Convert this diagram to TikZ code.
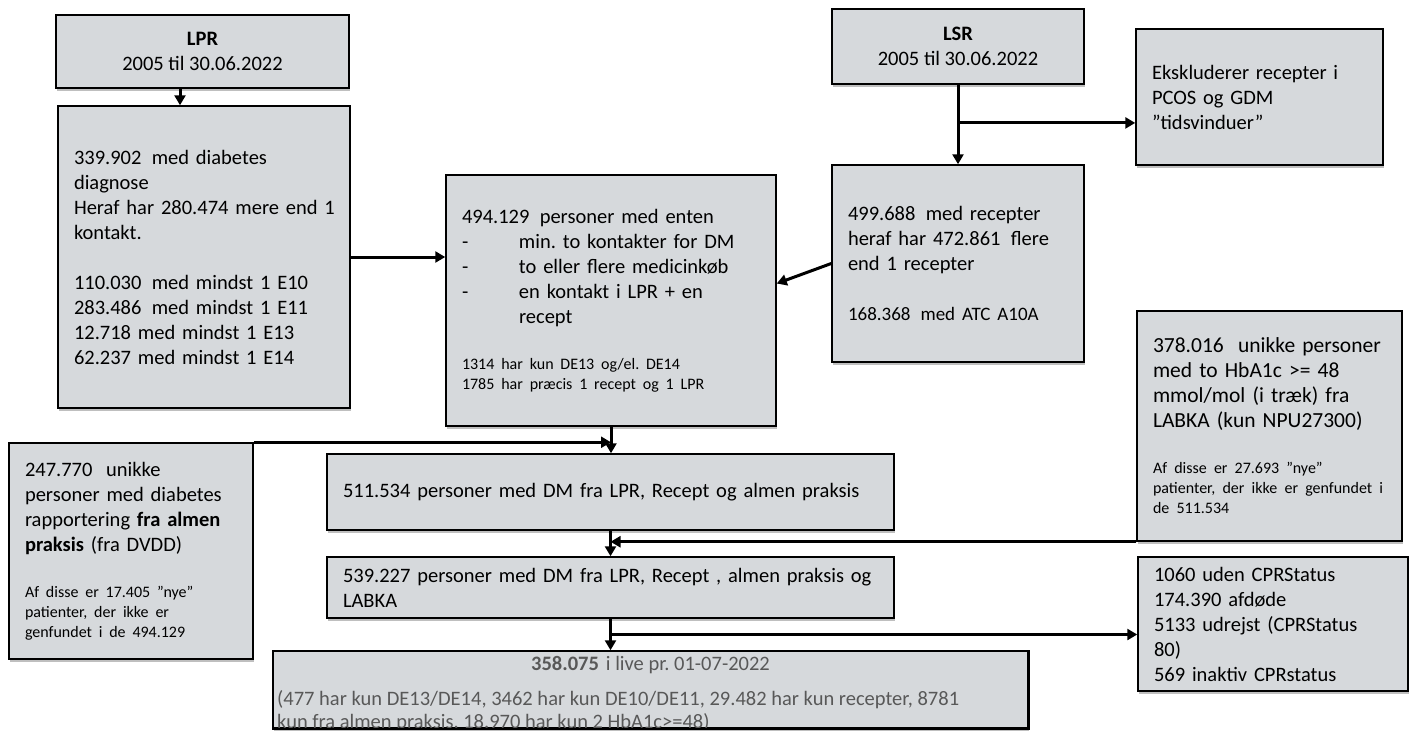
\documentclass[tikz,border=0pt]{standalone}
\usepackage{fontspec}
\setmainfont{Carlito}
\usetikzlibrary{arrows.meta,shadows,calc}

\definecolor{boxgray}{RGB}{214,217,220}
\definecolor{txtgray}{RGB}{88,88,88}
\newcommand{\boxfont}{\frenchspacing\fontsize{20.5}{25}\selectfont}
\newcommand{\notefont}{\fontsize{16}{20}\selectfont}

\begin{document}
\begin{tikzpicture}[x=1pt, y=-1pt, >={Triangle[length=10pt,width=11pt]},
    databox/.style={draw=black, line width=1.5pt, fill=boxgray, inner xsep=16pt, inner ysep=0pt,
        align=left, font=\boxfont,
        drop shadow={shadow xshift=1pt, shadow yshift=-2.5pt, fill=black, opacity=0.25}},
    flow/.style={->, line width=3pt}]
    \useasboundingbox (0,0) rectangle (1409,731);

    % LPR source and its counts
    \node[databox, minimum width=293pt, minimum height=73pt, align=center] (lpr) at (202.5,51.5)
        {\textbf{LPR}\\2005 til 30.06.2022};
    \node[databox, text width=270pt, inner xsep=11pt, minimum height=302pt] (lprd) at (204,257)
        {\hspace*{5pt}339.902\, med diabetes\\\hspace*{5pt}diagnose\\\hspace*{5pt}Heraf har 280.474 mere end 1\\\hspace*{5pt}kontakt.\\[25pt]
         \hspace*{5pt}110.030\, med mindst 1 E10\\\hspace*{5pt}283.486\, med mindst 1 E11\\\hspace*{5pt}12.718 med mindst 1 E13\\\hspace*{5pt}62.237 med mindst 1 E14};

    % LSR source, exclusion and counts
    \node[databox, minimum width=252pt, minimum height=75pt, align=center] (lsr) at (958,46.5)
        {\textbf{LSR}\\2005 til 30.06.2022};
    \node[databox, text width=215pt, minimum height=136pt] (excl) at (1259.5,97)
        {Ekskluderer recepter i\\PCOS og GDM\\”tidsvinduer”};
    \node[databox, text width=220pt, minimum height=197pt] (lsrd) at (958,263.5)
        {499.688\, med recepter\\heraf har 472.861\, flere\\end 1 recepter\\[25pt]
         {\fontsize{19}{25}\selectfont 168.368\, med ATC A10A}};

    % combined LPR + recept
    \node[databox, text width=298pt, minimum height=251pt] (mid) at (611,300.5)
        {494.129\, personer med enten\\
         \makebox[57pt][l]{-}min. to kontakter for DM\\
         \makebox[57pt][l]{-}to eller flere medicinkøb\\
         \makebox[57pt][l]{-}en kontakt i LPR + en\\
         \hspace*{57pt}recept\par\vspace{26pt}
         {\notefont 1314 har kun DE13 og/el. DE14\\1785 har præcis 1 recept og 1 LPR\par}};

    % almen praksis and LABKA
    \node[databox, text width=212pt, minimum height=216pt] (alm) at (131,551)
        {247.770\ \ unikke\\personer med diabetes\\rapportering \textbf{fra almen}\\\textbf{praksis} (fra DVDD)\par\vspace{26pt}
         {\notefont Af disse er 17.405 ”nye”\\patienter, der ikke er\\genfundet i de 494.129\par}};
    \node[databox, text width=233pt, minimum height=230pt, font=\frenchspacing\fontsize{21.5}{25}\selectfont] (lab) at (1269.5,426)
        {378.016\ \ unikke personer\\med to HbA1c >= 48\\mmol/mol (i træk) fra\\LABKA (kun NPU27300)\par\vspace{26pt}
         {\notefont Af disse er 27.693 ”nye”\\patienter, der ikke er genfundet i\\de 511.534\par}};

    % totals
    \node[databox, text width=535pt, minimum height=76pt] (dm1) at (610.5,492)
        {511.534 personer med DM fra LPR, Recept og almen praksis};
    \node[databox, text width=535pt, minimum height=61pt] (dm2) at (610.5,587.5)
        {539.227 personer med DM fra LPR, Recept , almen praksis og\\LABKA};
    \node[databox, text width=238pt, minimum height=134pt] (stat) at (1273,624)
        {1060 uden CPRStatus\\174.390 afdøde\\5133 udrejst (CPRStatus\\80)\\569 inaktiv CPRstatus};

    % alive, text cut at the frame
    \node[databox, minimum width=755pt, minimum height=77pt] (alive) at (650.5,689.5) {};
    \begin{scope}
        \clip (alive.south west) rectangle (alive.north east);
        \node[font=\boxfont, text=txtgray, inner sep=0pt, anchor=base] (alivehead) at (650.5,670)
            {\textbf{358.075}\hspace{7pt}i live pr. 01-07-2022};
        \node[font=\boxfont, text=txtgray, inner sep=0pt, anchor=base west] (aliveone) at (277,705)
            {(477 har kun DE13/DE14, 3462 har kun DE10/DE11, 29.482 har kun recepter, 8781};
        \node[font=\boxfont, text=txtgray, inner sep=0pt, anchor=base west] (alivetwo) at (277,728)
            {kun fra almen praksis, 18.970 har kun 2 HbA1c>=48)};
    \end{scope}
    \draw[line width=1.5pt] (alive.south west) rectangle (alive.north east);

    % arrows from LPR
    \draw[flow] ([xshift=-22.5pt]lpr.south) -- ([xshift=-22.5pt]lpr.south |- lprd.north);
    \draw[flow] (lprd.east) -- (lprd.east -| mid.west);

    % arrows from LSR
    \draw[flow] (lsr.south) -- (lsrd.north);
    \coordinate (cut) at ($(lsr.south)!0.48!(lsrd.north)$);
    \draw[flow] (cut) -- (cut -| excl.west);
    \draw[flow] (lsrd.west) -- ([yshift=17pt]mid.east);

    % down the middle
    \draw[flow] (mid.south) -- (mid.south |- dm1.north);
    \draw[flow] (alm.north east) -- (alm.north east -| mid.south);
    \draw[flow] (dm1.south) -- (dm2.north);
    \draw[flow] (lab.south west) -- (lab.south west -| dm1.south);
    \draw[flow] (dm2.south) -- (dm2.south |- alive.north);
    \coordinate (out) at ($(dm2.south)!0.5!(dm2.south |- alive.north)$);
    \draw[flow] (out) -- (out -| stat.west);
\end{tikzpicture}
\end{document}
